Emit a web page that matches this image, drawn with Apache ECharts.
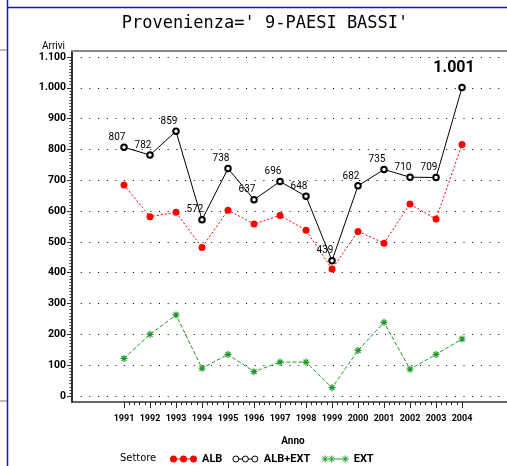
<!DOCTYPE html>
<html><head><meta charset="utf-8">
<script src="https://cdn.jsdelivr.net/npm/echarts@6/dist/echarts.min.js"></script>
<style>html,body{margin:0;padding:0;background:#fff}#c{width:507px;height:466px}</style>
</head><body><div id="c"></div>
<script>
const years = [1991,1992,1993,1994,1995,1996,1997,1998,1999,2000,2001,2002,2003,2004];
const albExt = [807,782,859,572,738,637,696,648,439,682,735,710,709,1001];
const alb = [685,582,596,482,603,558,586,538,412,534,496,623,574,816];
const ext = [122,200,263,90,135,79,110,110,27,148,239,87,135,185];
const titleText = "Provenienza=' 9-PAESI BASSI'";
const legendNames = ['ALB','ALB+EXT','EXT'];

function fmt(v){
  const s = String(Math.round(v));
  return s.replace(/\B(?=(\d{3})+(?!\d))/g, '.');
}
const NARROW = 'Roboto, "Liberation Sans", sans-serif';
const RED = '#ff0000', GREEN = '#1f9a2a';
const asterisk = 'path://M3.5,0L3.5,7M0,3.5L7,3.5M1,1L6,6M6,1L1,6';
const maxV = Math.max.apply(null, albExt);

const chart = echarts.init(document.getElementById('c'));
chart.setOption({
  backgroundColor: '#fff',
  animation: false,
  title: [
    {text: titleText, left: 260, textAlign: 'center', top: 10,
     textStyle: {fontFamily: '"DejaVu Sans Mono", monospace', fontSize: 17, fontWeight: 'normal', color: '#000'}},
    {text: 'Settore', left: 120, top: 453, padding: 0,
     textStyle: {fontFamily: '"DejaVu Sans Condensed", "DejaVu Sans", sans-serif', fontSize: 11, fontWeight: 'normal', color: '#000'}}
  ],
  graphic: [
    {type: 'line', shape: {x1: 7.5, y1: 0, x2: 7.5, y2: 466}, style: {stroke: '#1010ff', lineWidth: 1.5}},
    {type: 'line', shape: {x1: 7, y1: 7.5, x2: 507, y2: 7.5}, style: {stroke: '#1010ff', lineWidth: 1.5}},
    {type: 'line', shape: {x1: 0, y1: 50, x2: 7, y2: 50}, style: {stroke: '#777', lineWidth: 1}},
    {type: 'line', shape: {x1: 0, y1: 401, x2: 7, y2: 401}, style: {stroke: '#777', lineWidth: 1}}
  ],
  legend: {
    left: 170, top: 453, padding: 0, itemWidth: 27, itemHeight: 8, itemGap: 9,
    textStyle: {fontFamily: NARROW, fontSize: 11, fontWeight: 'bold', color: '#000', width: 41},
    data: [
      {name: legendNames[0], icon: 'path://M0,4A3.5,3.5,0,1,0,7,4A3.5,3.5,0,1,0,0,4ZM10,4A3.5,3.5,0,1,0,17,4A3.5,3.5,0,1,0,10,4ZM20,4A3.5,3.5,0,1,0,27,4A3.5,3.5,0,1,0,20,4ZM7,3.5L10,3.5L10,4.5L7,4.5ZM17,3.5L20,3.5L20,4.5L17,4.5Z',
       itemStyle: {color: RED, borderWidth: 0}},
      {name: legendNames[1], icon: 'path://M1,4A3,3,0,1,0,7,4A3,3,0,1,0,1,4ZM10.5,4A3,3,0,1,0,16.5,4A3,3,0,1,0,10.5,4ZM20,4A3,3,0,1,0,26,4A3,3,0,1,0,20,4ZM7,4L10.5,4M16.5,4L20,4M0,0L0,0M27,8L27,8',
       itemStyle: {color: '#fff', borderColor: '#000', borderWidth: 1}},
      {name: legendNames[2], icon: 'path://M3.5,0.5L3.5,7.5M0,4L7,4M1,1.5L6,6.5M6,1.5L1,6.5M10,0.5L10,7.5M6.5,4L13.5,4M7.5,1.5L12.5,6.5M12.5,1.5L7.5,6.5M23.5,0.5L23.5,7.5M20,4L27,4M21,1.5L26,6.5M26,1.5L21,6.5M13.5,4L20,4',
       itemStyle: {color: 'none', borderColor: GREEN, borderWidth: 1}}
    ]
  },
  grid: [
    {left: 72, right: 0, top: 51, bottom: 64},
    {left: 72, right: 0, top: 57, bottom: 70},
    {left: 124, width: 338, top: 57, bottom: 64}
  ],
  xAxis: [
    {gridIndex: 0, type: 'value', min: 0, max: 1, position: 'bottom',
     axisLine: {show: true, lineStyle: {color: '#333', width: 1.5}}, axisTick: {show: false}, axisLabel: {show: false}, splitLine: {show: false}},
    {gridIndex: 0, type: 'value', min: 0, max: 1, position: 'top',
     axisLine: {show: true, lineStyle: {color: '#888', width: 2}}, axisTick: {show: false}, axisLabel: {show: false}, splitLine: {show: false}},
    {gridIndex: 1, type: 'value', min: 1989, max: 2005.73, show: false},
    {gridIndex: 2, type: 'value', min: 1991, max: 2004, interval: 1, position: 'bottom',
     name: 'Anno', nameLocation: 'middle', nameGap: 34,
     nameTextStyle: {fontFamily: NARROW, fontSize: 10, fontWeight: 'bold', color: '#000'},
     axisLine: {show: false},
     axisTick: {show: true, length: 6, lineStyle: {color: '#222'}},
     minorTick: {show: true, splitNumber: 5, length: 3, lineStyle: {color: '#222'}},
     axisLabel: {margin: 12, fontFamily: NARROW, fontSize: 9, fontWeight: 'bold', color: '#000', formatter: v => String(v)},
     splitLine: {show: false}}
  ],
  yAxis: [
    {gridIndex: 0, type: 'value', min: 0, max: 1,
     axisLine: {show: true, lineStyle: {color: '#333', width: 2}}, axisTick: {show: false}, axisLabel: {show: false}, splitLine: {show: false}},
    {gridIndex: 1, type: 'value', min: 0, max: 1100, interval: 100,
     name: 'Arrivi', nameLocation: 'end', nameGap: 4,
     nameTextStyle: {fontFamily: NARROW, fontSize: 10, color: '#000', align: 'right', padding: [0, 7, 0, 0]},
     axisLine: {show: false},
     axisTick: {show: true, length: 5, lineStyle: {color: '#333'}},
     minorTick: {show: true, splitNumber: 10, length: 2.5, lineStyle: {color: '#333'}},
     axisLabel: {margin: 6, fontFamily: NARROW, fontSize: 10.5, fontWeight: 'bold', color: '#000', formatter: v => fmt(v)},
     splitLine: {show: true, lineStyle: {color: '#000', type: [1, 7.7], width: 1}}},
    {gridIndex: 2, type: 'value', min: 0, max: 1, show: false}
  ],
  series: [
    {name: legendNames[0], type: 'line', xAxisIndex: 2, yAxisIndex: 1,
     data: years.map((y, i) => [y, alb[i]]),
     symbol: 'circle', symbolSize: 7,
     itemStyle: {color: RED},
     lineStyle: {color: RED, width: 1, type: [2, 2]}},
    {name: legendNames[1], type: 'line', xAxisIndex: 2, yAxisIndex: 1,
     data: years.map((y, i) => {
       const d = {value: [y, albExt[i]]};
       if (albExt[i] === maxV) d.label = {fontFamily: NARROW, fontSize: 16, fontWeight: 'bold', offset: [-8, 0], distance: 8};
       return d;
     }),
     symbol: 'emptyCircle', symbolSize: 5.5,
     itemStyle: {color: '#000', borderColor: '#000', borderWidth: 0.8},
     lineStyle: {color: '#000', width: 1},
     label: {show: true, position: 'top', distance: 1, offset: [-7, 0],
       fontFamily: NARROW, fontSize: 10, color: '#000',
       formatter: p => fmt(p.value[1])}},
    {name: legendNames[2], type: 'line', xAxisIndex: 2, yAxisIndex: 1,
     data: years.map((y, i) => [y, ext[i]]),
     symbol: asterisk, symbolSize: 7,
     itemStyle: {color: 'none', borderColor: GREEN, borderWidth: 1.2},
     lineStyle: {color: GREEN, width: 1, type: [4, 2]}}
  ]
});
</script></body></html>
